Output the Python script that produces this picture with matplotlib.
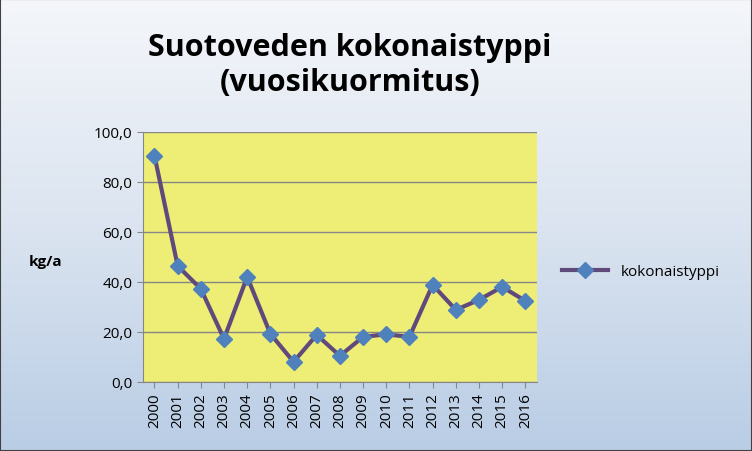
import numpy as np
import matplotlib
matplotlib.use("Agg")
import matplotlib.pyplot as plt
from matplotlib.colors import LinearSegmentedColormap

years = [str(y) for y in range(2000, 2017)]
values = [90.5, 46.4, 37.2, 17.2, 42.0, 19.2, 8.0, 18.8, 10.4, 18.0, 19.0, 18.0, 38.8, 28.8, 32.8, 38.0, 32.4]
series_name = "kokonaistyppi"

plt.rcParams['font.family'] = ['Open Sans', 'DejaVu Sans']

fig = plt.figure(figsize=(7.52, 4.52), dpi=100)

# background gradient
bg = fig.add_axes([0, 0, 1, 1], zorder=-10)
cmap = LinearSegmentedColormap.from_list("bg", ["#f4f6fa", "#dbe4f0", "#b9cde5"])
bg.imshow(np.linspace(0, 1, 256).reshape(-1, 1), aspect="auto", cmap=cmap, extent=[0, 1, 0, 1])
bg.set_xlim(0, 1)
bg.set_ylim(0, 1)
for s in bg.spines.values():
    s.set_color("#404040")
    s.set_linewidth(1.5)
bg.set_xticks([])
bg.set_yticks([])

ax = fig.add_axes([0.190, 0.153, 0.524, 0.553])
ax.set_facecolor("#eeee77")
x = np.arange(len(years))
ax.plot(x, values, color="#604a7b", lw=3, marker="D", ms=8,
        mfc="#4f81bd", mec="#4f81bd", label=series_name, zorder=3)
ax.set_xlim(-0.5, len(years) - 0.5)
ax.set_ylim(0, 100)
ax.set_yticks(np.arange(0, 101, 20))
ax.set_yticklabels([f"{v:.1f}".replace(".", ",") for v in range(0, 101, 20)], fontsize=11)
ax.set_xticks(x)
ax.set_xticklabels(years, rotation=90, fontsize=11)
ax.yaxis.grid(True, color="#868686", lw=1)
ax.set_axisbelow(True)
for s in ["top", "right"]:
    ax.spines[s].set_visible(False)
ax.spines["left"].set_color("#868686")
ax.spines["bottom"].set_color("#868686")
ax.tick_params(length=4, color="#868686")

fig.text(0.06, 0.42, "kg/a", fontsize=11, fontweight="bold", ha="center", va="center")
fig.text(0.465, 0.855, "Suotoveden kokonaistyppi\n(vuosikuormitus)", fontsize=22,
         fontweight="bold", ha="center", va="center", linespacing=1.2)

ax.legend(loc="center left", bbox_to_anchor=(1.03, 0.44), frameon=False, fontsize=11,
          handlelength=3)

fig.savefig("out.png", dpi=100)
